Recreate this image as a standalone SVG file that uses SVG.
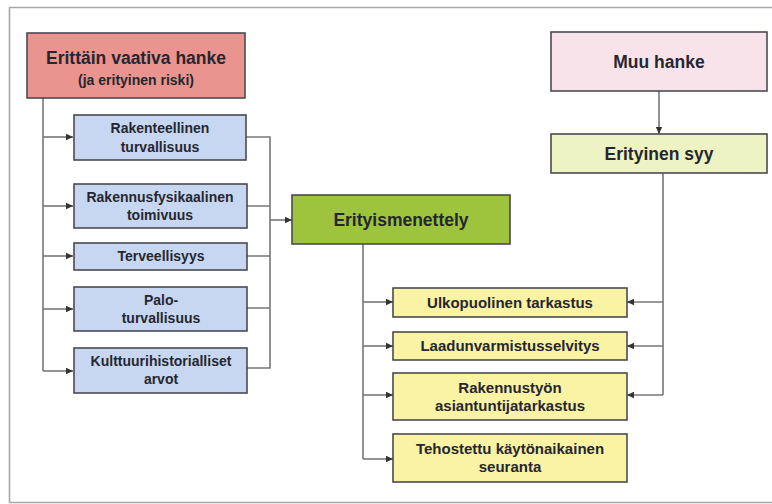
<svg xmlns="http://www.w3.org/2000/svg" width="772" height="504" viewBox="0 0 772 504">
<defs>
<marker id="ah" markerUnits="userSpaceOnUse" markerWidth="8" markerHeight="8" refX="7" refY="4" orient="auto">
<path d="M0,0.8 L7,4 L0,7.2 Z" fill="#333"/>
</marker>
</defs>
<style>
.box{stroke:#4a4a52;stroke-width:1.6}
.red{fill:#e9948e}
.blue{fill:#c7d7f1}
.green{fill:#9dc43c}
.yellow{fill:#f9f3a3}
.pink{fill:#f9e3eb}
.lgreen{fill:#eef3c3}
text{font-family:"Liberation Sans",Arial,sans-serif;font-weight:bold;fill:#262630;text-anchor:middle}
.s{font-size:14px}
.m{font-size:15px}
.l{font-size:17.5px}
.c{fill:none;stroke:#777;stroke-width:1.6}
.a{marker-end:url(#ah)}
</style>
<rect width="772" height="504" fill="#fff"/>
<path d="M772,7.5 H9.5 V502.5 H772" fill="none" stroke="#a8a8a8" stroke-width="1.6"/>

<g id="connectors">
<path class="c" d="M43,98 V371"/>
<path class="c a" d="M43,137 H73"/>
<path class="c a" d="M43,206 H73"/>
<path class="c a" d="M43,256 H73"/>
<path class="c a" d="M43,309 H73"/>
<path class="c a" d="M43,371 H73"/>
<path class="c" d="M246,137 H270 V368 H247 M247,206 H270 M247,256 H270 M247,308 H270"/>
<path class="c a" d="M270,220 H292"/>
<path class="c" d="M363,244 V459"/>
<path class="c a" d="M363,302 H393"/>
<path class="c a" d="M363,346 H393"/>
<path class="c a" d="M363,395 H393"/>
<path class="c a" d="M363,459 H393"/>
<path class="c a" d="M659,91 V134"/>
<path class="c" d="M663,173 V395"/>
<path class="c a" d="M663,302 H627"/>
<path class="c a" d="M663,346 H627"/>
<path class="c a" d="M663,395 H627"/>
</g>

<g id="erittain">
<rect class="box red" x="27" y="33" width="218" height="65"/>
<text class="l" x="136" y="64">Erittäin vaativa hanke</text>
<text class="s" x="136" y="85">(ja erityinen riski)</text>
</g>

<g id="rakenteellinen">
<rect class="box blue" x="74" y="115" width="172" height="45"/>
<text class="s" x="160" y="133">Rakenteellinen</text>
<text class="s" x="160" y="152">turvallisuus</text>
</g>
<g id="rakennusfysikaalinen">
<rect class="box blue" x="74" y="184" width="173" height="44"/>
<text class="s" x="160" y="202">Rakennusfysikaalinen</text>
<text class="s" x="160" y="220">toimivuus</text>
</g>
<g id="terveellisyys">
<rect class="box blue" x="74" y="243" width="173" height="27"/>
<text class="s" x="161" y="261">Terveellisyys</text>
</g>
<g id="palo">
<rect class="box blue" x="74" y="287" width="173" height="44"/>
<text class="s" x="161" y="305">Palo-</text>
<text class="s" x="161" y="323">turvallisuus</text>
</g>
<g id="kulttuuri">
<rect class="box blue" x="74" y="348" width="173" height="45"/>
<text class="s" x="161" y="366">Kulttuurihistorialliset</text>
<text class="s" x="161" y="384">arvot</text>
</g>

<g id="erityismenettely">
<rect class="box green" x="292" y="195" width="218" height="49"/>
<text class="l" x="401" y="226">Erityismenettely</text>
</g>

<g id="muu">
<rect class="box pink" x="551" y="32" width="216" height="59"/>
<text class="l" x="659" y="68">Muu hanke</text>
</g>
<g id="erityinen-syy">
<rect class="box lgreen" x="551" y="134" width="216" height="39"/>
<text class="l" x="659" y="160">Erityinen syy</text>
</g>

<g id="ulkopuolinen">
<rect class="box yellow" x="393" y="288" width="234" height="29"/>
<text class="m" x="510" y="308">Ulkopuolinen tarkastus</text>
</g>
<g id="laadunvarmistus">
<rect class="box yellow" x="393" y="332" width="234" height="28"/>
<text class="m" x="510" y="351">Laadunvarmistusselvitys</text>
</g>
<g id="rakennustyon">
<rect class="box yellow" x="393" y="373" width="234" height="47"/>
<text class="m" x="510" y="393">Rakennustyön</text>
<text class="m" x="510" y="411">asiantuntijatarkastus</text>
</g>
<g id="tehostettu">
<rect class="box yellow" x="393" y="434" width="234" height="48"/>
<text class="m" x="510" y="454">Tehostettu käytönaikainen</text>
<text class="m" x="510" y="472">seuranta</text>
</g>
</svg>
